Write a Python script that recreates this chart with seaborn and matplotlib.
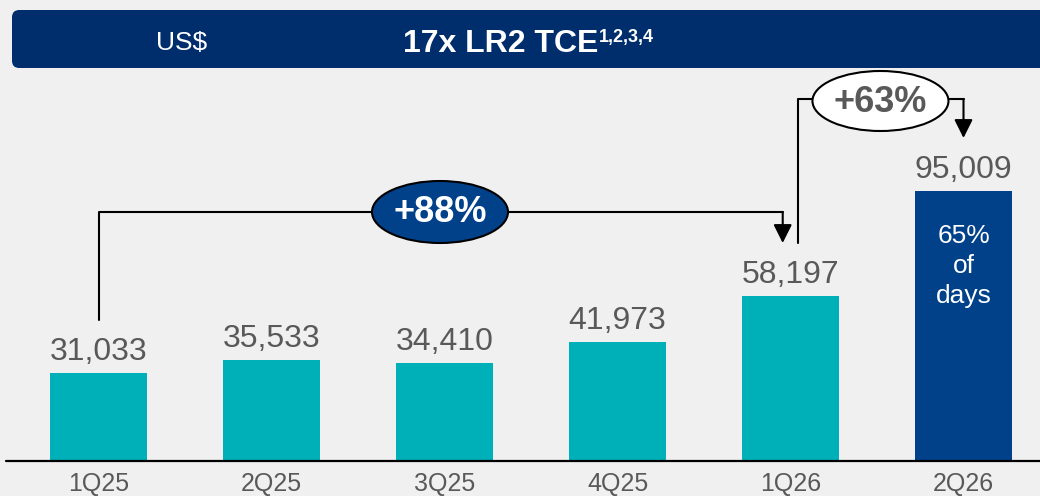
import matplotlib.pyplot as plt
import seaborn as sns
from matplotlib.patches import Ellipse, FancyBboxPatch

# Data
quarters = ["1Q25", "2Q25", "3Q25", "4Q25", "1Q26", "2Q26"]
tce = [31033, 35533, 34410, 41973, 58197, 95009]
bar_colors = ["#00B0B9"] * 5 + ["#00418A"]
growth_labels = ["+88%", "+63%"]
inner_note = "65%\nof\ndays"
header_unit = "US$"
header_title = "17x LR2 TCE"
header_notes = "1,2,3,4"

GRAY = "#595959"
NAVY = "#002D6B"
BG = "#F0F0F0"

sns.set_style("white", {"axes.facecolor": BG, "figure.facecolor": BG})
plt.rcParams["font.family"] = ["Liberation Sans", "DejaVu Sans"]

W, H = 1040, 496
BASE = 461     # pixel row of the baseline
PX = 0.00284   # pixels per US$
STEP = 173     # pixels between bar centres

fig = plt.figure(figsize=(W / 100, H / 100), dpi=100)
ax = fig.add_axes([0, (H - BASE) / H, 1, BASE / H])

sns.barplot(x=quarters, y=tce, hue=quarters, palette=bar_colors, width=0.56,
            saturation=1, linewidth=0, legend=False, ax=ax)
ax.set_xlim(-98.5 / STEP, (W - 98.5) / STEP)
ax.set_ylim(0, BASE / PX)
ax.set(xlabel="", ylabel="")
ax.set_yticks([])
ax.tick_params(axis="x", length=0, pad=8, labelsize=18, labelcolor=GRAY)
sns.despine(ax=ax, left=True, bottom=True)
ax.axhline(0, xmin=6 / W, color="black", lw=1.6, clip_on=False, zorder=5)


def yv(row):
    # pixel row -> data value
    return (BASE - row) / PX


# value labels
for i, v in enumerate(tce):
    ax.annotate(f"{v:,}", xy=(i, v), xytext=(0, 9.4), textcoords="offset points",
                ha="center", va="baseline", fontsize=23, color=GRAY)

ax.text(5, yv(266), inner_note, ha="center", va="center", fontsize=19,
        color="white", linespacing=1.32)

# growth brackets
off = 0.045
arrow = dict(arrowstyle="-|>", color="black", lw=1.5, mutation_scale=28,
             shrinkA=0, shrinkB=0)
ax.plot([0, 0, 4 - off], [yv(320), yv(212), yv(212)], color="black", lw=1.5)
ax.annotate("", xy=(4 - off, yv(243)), xytext=(4 - off, yv(212)), arrowprops=arrow)
ax.plot([4 + off, 4 + off, 5], [yv(243), yv(99), yv(99)], color="black", lw=1.5)
ax.annotate("", xy=(5, yv(138)), xytext=(5, yv(99)), arrowprops=arrow)

ax.add_patch(Ellipse((1.974, yv(212)), 136 / STEP, 62 / PX, fc="#00418A",
                     ec="black", lw=1.5, zorder=6))
ax.text(1.974, yv(213), growth_labels[0], ha="center", va="center", fontsize=26,
        fontweight="bold", color="white", zorder=7)
ax.add_patch(Ellipse((4.52, yv(101)), 136 / STEP, 60 / PX, fc="white",
                     ec="black", lw=1.5, zorder=6))
ax.text(4.52, yv(102), growth_labels[1], ha="center", va="center", fontsize=26,
        fontweight="bold", color=GRAY, zorder=7)

# header bar
hdr = FancyBboxPatch((12 / W, 1 - 68 / H), 1.1, 58 / H,
                     boxstyle="round,pad=0,rounding_size=0.007",
                     mutation_aspect=W / H, transform=fig.transFigure,
                     fc=NAVY, ec="none")
fig.patches.append(hdr)
fig.text(182 / W, 1 - 50 / H, header_unit, ha="center", va="baseline",
         fontsize=19, color="white")
t = fig.text(403 / W, 1 - 52 / H, header_title, ha="left", va="baseline",
             fontsize=23, fontweight="bold", color="white")
bb = t.get_window_extent(fig.canvas.get_renderer())
fig.text(bb.x1 / W + 1 / W, 1 - 42 / H, header_notes, ha="left", va="baseline",
         fontsize=13, fontweight="bold", color="white")

fig.savefig("out.png", dpi=100, facecolor=BG)
